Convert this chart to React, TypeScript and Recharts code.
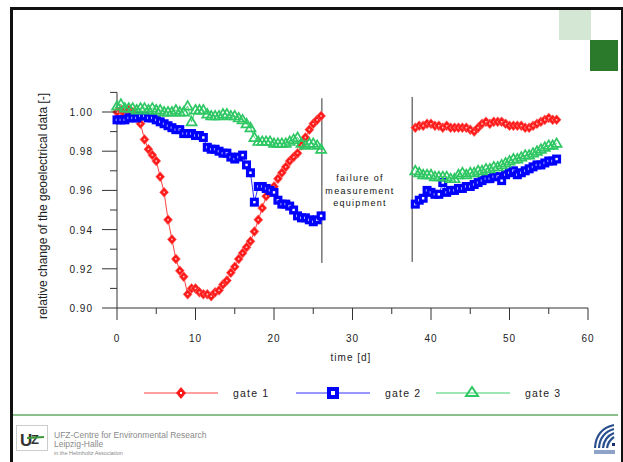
import React from "react";
import { LineChart, Line, XAxis, YAxis, ReferenceLine } from "recharts";

// time [d] of each measurement, before and after the equipment failure
const timeA = [
  0, 0.5, 1, 1.5, 2, 2.5, 3, 3.5, 4, 4.5, 5, 5.5, 6, 6.5, 7, 7.5, 8, 8.5, 9, 9.5,
  10, 10.5, 11, 11.5, 12, 12.5, 13, 13.5, 14, 14.5, 15, 15.5, 16, 16.5, 17, 17.5,
  18, 18.5, 19, 19.5, 20, 20.5, 21, 21.5, 22, 22.5, 23, 23.5, 24, 24.5, 25, 25.5, 26,
];
const timeB = [
  38, 38.5, 39, 39.5, 40, 40.5, 41, 41.5, 42, 42.5, 43, 43.5, 44, 44.5, 45, 45.5,
  46, 46.5, 47, 47.5, 48, 48.5, 49, 49.5, 50, 50.5, 51, 51.5, 52, 52.5, 53, 53.5,
  54, 54.5, 55, 55.5, 56,
];

const gate1A = [
  1.0, 1.001, 0.999, 1.001, 1.0, 0.998, 0.994, 0.986, 0.981, 0.978, 0.975, 0.967,
  0.959, 0.945, 0.935, 0.925, 0.919, 0.916, 0.907, 0.91, 0.91, 0.908, 0.907, 0.907,
  0.906, 0.908, 0.909, 0.912, 0.914, 0.918, 0.921, 0.925, 0.928, 0.931, 0.934,
  0.939, 0.945, 0.951, 0.957, 0.96, 0.962, 0.966, 0.969, 0.972, 0.975, 0.977,
  0.979, 0.983, 0.987, 0.991, 0.994, 0.996, 0.998,
];
const gate2A = [
  0.996, 0.996, 0.996, 0.997, 0.997, 0.997, 0.998, 0.998, 0.997, 0.997, 0.996,
  0.995, 0.994, 0.993, 0.992, 0.991, 0.991, 0.989, 0.989, 0.989, 0.988, 0.988,
  0.987, 0.982, 0.981, 0.981, 0.98, 0.979, 0.979, 0.977, 0.976, 0.977, 0.978,
  0.973, 0.969, 0.954, 0.962, 0.962, 0.961, 0.96, 0.959, 0.955, 0.953, 0.953,
  0.952, 0.95, 0.947, 0.946, 0.946, 0.945, 0.944, 0.945, 0.947,
];
const gate3A = [
  1.003, 1.004, 1.002, 1.002, 1.002, 1.001, 1.002, 1.002, 1.001, 1.002, 1.001,
  1.001, 1.0, 1.0, 1.0, 1.001, 1.0, 1.0, 1.003, 0.995, 1.001, 1.001, 1.001, 0.999,
  0.998, 0.998, 0.998, 0.999, 0.999, 0.998, 0.998, 0.997, 0.996, 0.994, 0.992,
  0.987, 0.985, 0.985, 0.985, 0.985, 0.984, 0.984, 0.984, 0.984, 0.985, 0.986,
  0.987, 0.984, 0.983, 0.984, 0.984, 0.983, 0.981,
];

const gate1B = [
  0.992, 0.993, 0.993, 0.994, 0.994, 0.993, 0.993, 0.992, 0.993, 0.992, 0.992,
  0.992, 0.992, 0.992, 0.991, 0.99, 0.992, 0.994, 0.995, 0.994, 0.995, 0.995,
  0.995, 0.994, 0.993, 0.993, 0.993, 0.993, 0.992, 0.992, 0.993, 0.994, 0.995,
  0.996, 0.997, 0.996, 0.996,
];
const gate2B = [
  0.953, 0.955, 0.956, 0.96, 0.959, 0.958, 0.958, 0.964, 0.959, 0.96, 0.96, 0.961,
  0.961, 0.962, 0.962, 0.963, 0.964, 0.965, 0.966, 0.966, 0.967, 0.967, 0.965,
  0.968, 0.969, 0.97, 0.968, 0.969, 0.97, 0.971, 0.972, 0.973, 0.973, 0.974,
  0.975, 0.975, 0.976,
];
const gate3B = [
  0.97, 0.969, 0.968, 0.968, 0.968, 0.967, 0.967, 0.967, 0.967, 0.966, 0.966,
  0.968, 0.969, 0.968, 0.969, 0.969, 0.97, 0.97, 0.971, 0.971, 0.972, 0.972,
  0.973, 0.974, 0.975, 0.976, 0.976, 0.977, 0.978, 0.978, 0.979, 0.98, 0.981,
  0.982, 0.983, 0.983, 0.984,
];

const xTicks = [0, 5, 10, 15, 20, 25, 30, 35, 40, 45, 50, 55, 60];
const yTicks = [0.9, 0.91, 0.92, 0.93, 0.94, 0.95, 0.96, 0.97, 0.98, 0.99, 1.0, 1.01];

// start and end of the gap in the record (failure of measurement equipment)
const failureStart = 26.1;
const failureEnd = 37.6;

const series = [
  { key: "g1", name: "gate 1", color: "#ff1a1a", line: "#ff4040", shape: "diamond" },
  { key: "g2", name: "gate 2", color: "#0000ff", line: "#3030ff", shape: "square" },
  { key: "g3", name: "gate 3", color: "#2ec763", line: "#3ccf6c", shape: "triangle" },
];

const data = [
  ...timeA.map((t, i) => ({ t, g1: gate1A[i], g2: gate2A[i], g3: gate3A[i] })),
  { t: 32, g1: null, g2: null, g3: null },
  ...timeB.map((t, i) => ({ t, g1: gate1B[i], g2: gate2B[i], g3: gate3B[i] })),
];

const FONT = '"Liberation Sans", Arial, sans-serif';

function Marker({ shape, color, cx, cy }: { shape: string; color: string; cx: number; cy: number }) {
  if (shape === "diamond") {
    return (
      <g>
        <polygon
          points={`${cx},${cy - 5} ${cx + 4.5},${cy} ${cx},${cy + 5} ${cx - 4.5},${cy}`}
          fill={color}
          stroke="#ff7070"
          strokeWidth={0.6}
        />
        <rect x={cx - 0.8} y={cy - 0.8} width={1.6} height={1.6} fill="#ffc0c0" />
      </g>
    );
  }
  if (shape === "square") {
    return (
      <g>
        <rect x={cx - 4.5} y={cy - 4.5} width={9} height={9} fill={color} />
        <rect x={cx - 1.2} y={cy - 1.2} width={2.4} height={2.4} fill="#ffffff" />
      </g>
    );
  }
  return (
    <polygon
      points={`${cx},${cy - 5} ${cx + 5},${cy + 3.6} ${cx - 5},${cy + 3.6}`}
      fill="none"
      stroke={color}
      strokeWidth={1.7}
    />
  );
}

const makeDot = (shape: string, color: string) => (props: any) => {
  const { cx, cy, index } = props;
  if (cx == null || cy == null || props.value == null) return <g key={`e-${index}`} />;
  return (
    <g key={`d-${shape}-${index}`}>
      <Marker shape={shape} color={color} cx={cx} cy={cy} />
    </g>
  );
};

const XTick = (props: any) => {
  const { x, y, payload } = props;
  const major = payload.value % 10 === 0;
  return (
    <g>
      <line x1={x} x2={x} y1={y} y2={y + (major ? 12 : 6)} stroke="#333" />
      {major && (
        <text x={x} y={y + 34} textAnchor="middle" fontSize={10} letterSpacing={1} fill="#222" fontFamily={FONT}>
          {payload.value}
        </text>
      )}
    </g>
  );
};

const YTick = (props: any) => {
  const { x, y, payload } = props;
  const major = Math.round(payload.value * 100) % 2 === 0;
  return (
    <g>
      <line x1={x - (major ? 15 : 7)} x2={x} y1={y} y2={y} stroke="#333" />
      {major && payload.value < 1.005 && (
        <text x={x - 24} y={y + 4} textAnchor="end" fontSize={10} letterSpacing={1} fill="#222" fontFamily={FONT}>
          {payload.value.toFixed(2)}
        </text>
      )}
    </g>
  );
};

const legendX = [144, 296, 436];

export default function App() {
  return (
    <div style={{ position: "absolute", left: 0, top: 0, width: 623, height: 462, background: "#fff", overflow: "hidden" }}>
      {/* slide frame and corner decoration */}
      <div style={{ position: "absolute", left: 10, top: 7, width: 608, height: 470, borderLeft: "3px solid #111", borderTop: "3px solid #111", borderRight: "3px solid #111" }} />
      <div style={{ position: "absolute", left: 559, top: 10, width: 32, height: 30, background: "#d4e6d4" }} />
      <div style={{ position: "absolute", left: 590, top: 40, width: 28, height: 31, background: "#2b7a2b" }} />

      <div style={{ position: "absolute", left: 0, top: 0 }}>
        <LineChart width={623} height={462} data={data} margin={{ top: 92.4, right: 35, left: 57, bottom: 114 }}>
          <XAxis
            dataKey="t"
            type="number"
            domain={[0, 60]}
            ticks={xTicks}
            tick={XTick}
            tickLine={false}
            tickSize={0}
            tickMargin={0}
            height={40}
            axisLine={{ stroke: "#333" }}
            interval={0}
          />
          <YAxis
            type="number"
            domain={[0.9, 1.01]}
            ticks={yTicks}
            tick={YTick}
            tickLine={false}
            tickSize={0}
            tickMargin={0}
            width={60}
            axisLine={{ stroke: "#333" }}
            interval={0}
            allowDataOverflow
          />
          <ReferenceLine
            segment={[{ x: failureStart, y: 0.923 }, { x: failureStart, y: 1.007 }]}
            stroke="#333"
            ifOverflow="visible"
          />
          <ReferenceLine
            segment={[{ x: failureEnd, y: 0.9235 }, { x: failureEnd, y: 1.0077 }]}
            stroke="#333"
            ifOverflow="visible"
          />
          {series.map((s) => (
            <Line
              key={s.key}
              dataKey={s.key}
              name={s.name}
              type="linear"
              stroke={s.line}
              strokeWidth={1}
              dot={makeDot(s.shape, s.color)}
              activeDot={false}
              connectNulls={false}
              isAnimationActive={false}
            />
          ))}
        </LineChart>
      </div>

      <svg width={623} height={462} style={{ position: "absolute", left: 0, top: 0, pointerEvents: "none" }} fontFamily={FONT}>
        <text x={47} y={206} transform="rotate(-90 47 206)" textAnchor="middle" fontSize={12} fill="#222">
          relative change of the geoelectrical data [-]
        </text>
        <text x={351} y={361} textAnchor="middle" fontSize={10} letterSpacing={1} fill="#222">
          time [d]
        </text>
        <g fontSize={9} letterSpacing={1.3} fill="#111" textAnchor="middle">
          <text x={360} y={181}>failure of</text>
          <text x={360} y={194}>measurement</text>
          <text x={360} y={206}>equipment</text>
        </g>

        {series.map((s, i) => (
          <g key={s.key}>
            <line x1={legendX[i]} x2={legendX[i] + 74} y1={393} y2={393} stroke={s.line} strokeWidth={1} />
            {s.shape === "triangle" ? (
              <polygon points={`${legendX[i] + 36},${387} ${legendX[i] + 42},${396} ${legendX[i] + 30},${396}`} fill="none" stroke={s.color} strokeWidth={2} />
            ) : s.shape === "square" ? (
              <g>
                <rect x={legendX[i] + 31} y={387} width={12} height={12} fill={s.color} />
                <rect x={legendX[i] + 35} y={391} width={4} height={4} fill="#fff" />
              </g>
            ) : (
              <g>
                <polygon points={`${legendX[i] + 37},${387} ${legendX[i] + 42},${393} ${legendX[i] + 37},${399} ${legendX[i] + 32},${393}`} fill={s.color} />
                <rect x={legendX[i] + 36} y={392} width={2} height={2} fill="#fff" />
              </g>
            )}
            <text x={legendX[i] + 89} y={397} fontSize={10.5} letterSpacing={1.2} fill="#222">
              {s.name}
            </text>
          </g>
        ))}

        {/* footer */}
        <line x1={13} x2={618} y1={415} y2={415} stroke="#8cbf8c" strokeWidth={2} />
        <rect x={16.5} y={425.5} width={31} height={25} fill="#fff" stroke="#ccc" />
        <text x={20} y={446} fontSize={17} fill="#333" fontWeight="bold">U</text>
        <text x={31} y={444} fontSize={13} fill="#333" fontWeight="bold">Z</text>
        <line x1={27} x2={44} y1={438} y2={437} stroke="#3a9a3a" strokeWidth={2} />
        <text x={54} y={438} fontSize={8.5} fill="#8a8a8a">UFZ-Centre for  Environmental Research</text>
        <text x={54} y={447} fontSize={8.5} fill="#8a8a8a">Leipzig-Halle</text>
        <text x={54} y={455} fontSize={5.5} fill="#8a8a8a">in the Helmholtz Association</text>
        <g fill="none" stroke="#2a4f8f" strokeWidth={2.2}>
          <path d="M595,448 Q596,429 614,425" />
          <path d="M599,448 Q600,433 614,429" />
          <path d="M603,448 Q604,437 614,433" />
          <path d="M607,448 Q608,441 614,437" />
        </g>
        <rect x={612} y={443} width={3} height={3} fill="#1a2f6f" />
        <rect x={594} y={450} width={21} height={4} fill="#8fa3c8" />
      </svg>
    </div>
  );
}
